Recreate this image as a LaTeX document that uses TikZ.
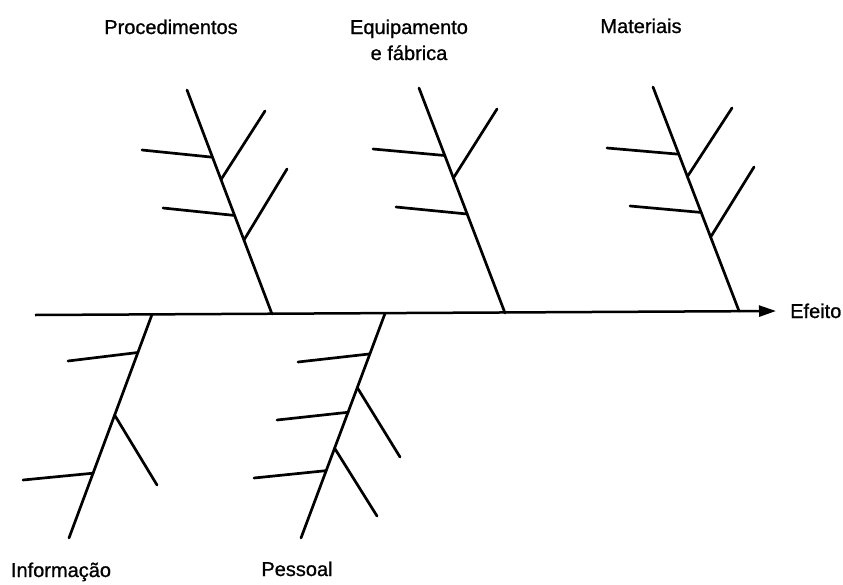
\documentclass[tikz,border=0pt]{standalone}
\usepackage{fontspec}
\setmainfont{Liberation Sans}
\newfontfamily\lblfont[FakeBold=0.9]{Liberation Sans}
\usetikzlibrary{arrows.meta,calc}
\begin{document}
\begin{tikzpicture}[x=1pt,y=-1pt,
  bone/.style={line width=2.7pt,black,line cap=round},
  spine/.style={line width=2.5pt,black,-{Triangle[length=17pt,width=11pt]}},
  lbl/.style={font=\lblfont\fontsize{20}{28}\selectfont,inner sep=0pt,anchor=base}]
\useasboundingbox (0,0) rectangle (843,584);
% spine
\coordinate (s0) at (35,315);
\coordinate (s1) at (776,311);
\draw[spine] (s0) -- (s1);
\node[lbl,anchor=base west] (eff) at (790,318) {Efeito};
% Procedimentos
\coordinate (pt) at (187,90);
\coordinate (pb) at (272,314);
\draw[bone] (pt) -- (pb);
\coordinate (pl1) at (142,150);
\coordinate (pr1) at (265,111);
\coordinate (pl2) at (163,208);
\coordinate (pr2) at (287,169);
\draw[bone] (pl1) -- ($(pt)!0.30!(pb)$);
\draw[bone] (pr1) -- ($(pt)!0.40!(pb)$);
\draw[bone] (pl2) -- ($(pt)!0.56!(pb)$);
\draw[bone] (pr2) -- ($(pt)!0.67!(pb)$);
\node[lbl] (proc) at (171,34) {Procedimentos};
% Equipamento
\coordinate (et) at (419,88);
\coordinate (eb) at (505,313);
\draw[bone] (et) -- (eb);
\coordinate (el1) at (373,149);
\coordinate (er1) at (497,109);
\coordinate (el2) at (396,207);
\draw[bone] (el1) -- ($(et)!0.30!(eb)$);
\draw[bone] (er1) -- ($(et)!0.40!(eb)$);
\draw[bone] (el2) -- ($(et)!0.56!(eb)$);
\node[lbl] (equ1) at (409,34) {Equipamento};
\node[lbl] (equ2) at (409,60) {e fábrica};
% Materiais
\coordinate (mt) at (653,87);
\coordinate (mb) at (739,311);
\draw[bone] (mt) -- (mb);
\coordinate (ml1) at (607,148);
\coordinate (mr1) at (732,108);
\coordinate (ml2) at (630,206);
\coordinate (mr2) at (754,167);
\draw[bone] (ml1) -- ($(mt)!0.30!(mb)$);
\draw[bone] (mr1) -- ($(mt)!0.40!(mb)$);
\draw[bone] (ml2) -- ($(mt)!0.56!(mb)$);
\draw[bone] (mr2) -- ($(mt)!0.67!(mb)$);
\node[lbl] (mat) at (641,33) {Materiais};
% Informacao
\coordinate (it) at (152,314.5);
\coordinate (ib) at (69,538);
\draw[bone] (it) -- (ib);
\coordinate (il1) at (68,361);
\coordinate (ir1) at (157,485);
\coordinate (il2) at (23,480);
\draw[bone] (il1) -- ($(it)!0.17!(ib)$);
\draw[bone] (ir1) -- ($(it)!0.45!(ib)$);
\draw[bone] (il2) -- ($(it)!0.71!(ib)$);
\node[lbl] (inf) at (61,577) {Informação};
% Pessoal
\coordinate (qt) at (385,313.5);
\coordinate (qb) at (301,538);
\draw[bone] (qt) -- (qb);
\coordinate (ql1) at (298,362);
\coordinate (qr1) at (400,457);
\coordinate (ql2) at (277,420);
\coordinate (qr2) at (377,516);
\coordinate (ql3) at (254,478);
\draw[bone] (ql1) -- ($(qt)!0.18!(qb)$);
\draw[bone] (qr1) -- ($(qt)!0.33!(qb)$);
\draw[bone] (ql2) -- ($(qt)!0.44!(qb)$);
\draw[bone] (qr2) -- ($(qt)!0.60!(qb)$);
\draw[bone] (ql3) -- ($(qt)!0.70!(qb)$);
\node[lbl] (pes) at (297,576) {Pessoal};
\end{tikzpicture}
\end{document}
